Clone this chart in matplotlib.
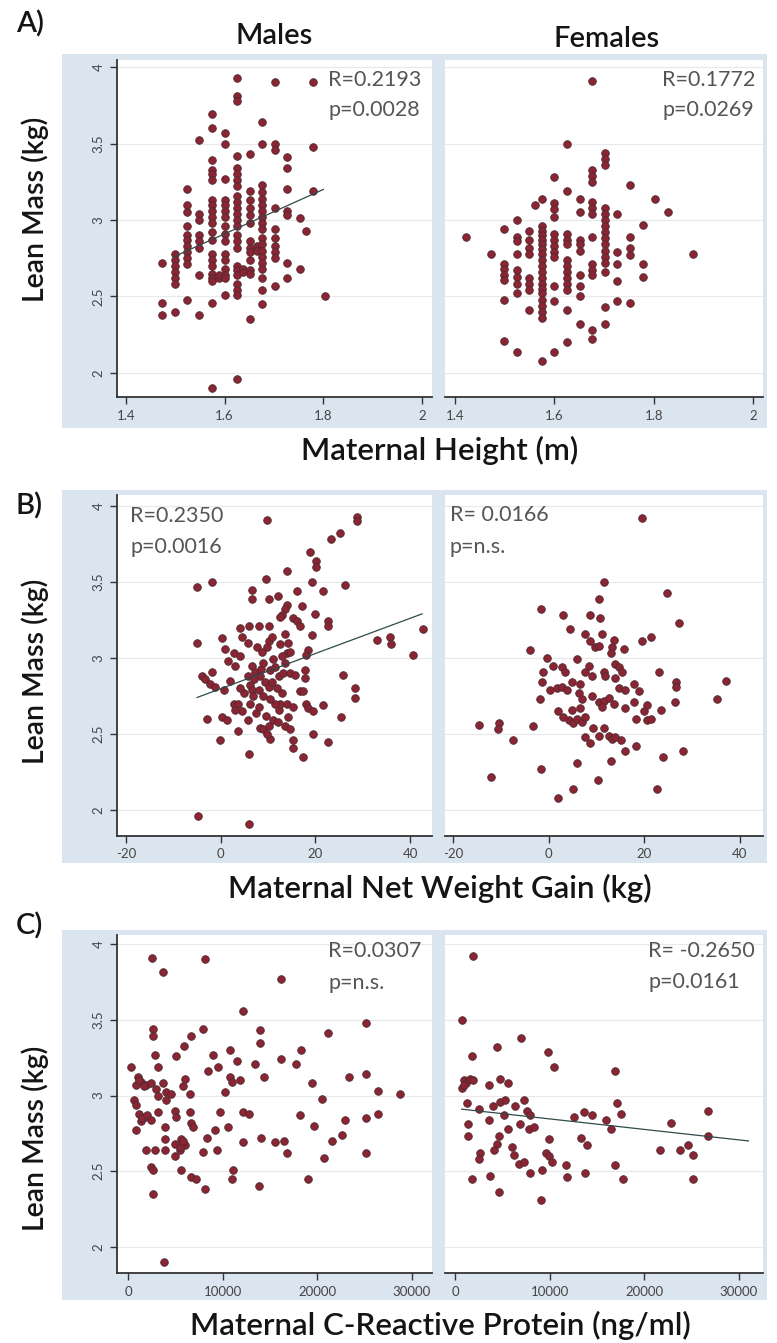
import matplotlib
matplotlib.use("Agg")
import matplotlib.pyplot as plt
from matplotlib.patches import Rectangle

plt.rcParams['font.family'] = ['Lato', 'DejaVu Sans']

# --- Data ---
# A) maternal height (m) -> lean mass (kg); heights come in inch steps, so keyed by column
a_male = {
    1.473: [2.72, 2.46, 2.38],
    1.499: [2.78, 2.74, 2.70, 2.66, 2.62, 2.58, 2.40],
    1.524: [3.20, 3.10, 3.05, 2.96, 2.90, 2.87, 2.83, 2.79, 2.75, 2.71, 2.48],
    1.549: [3.52, 3.04, 3.00, 2.90, 2.86, 2.82, 2.64, 2.38],
    1.575: [3.69, 3.60, 3.39, 3.33, 3.30, 3.26, 3.13, 3.10, 3.06, 3.02, 2.98, 2.92,
            2.87, 2.78, 2.74, 2.70, 2.65, 2.62, 2.60, 2.46, 1.90],
    1.588: [2.62, 2.64],
    1.600: [3.57, 3.50, 3.27, 3.13, 3.10, 3.06, 3.02, 2.96, 2.91, 2.86, 2.78, 2.74,
            2.68, 2.64, 2.62, 2.51],
    1.626: [3.93, 3.81, 3.78, 3.42, 3.34, 3.30, 3.26, 3.22, 3.16, 3.12, 3.08, 3.04,
            3.00, 2.96, 2.90, 2.86, 2.82, 2.70, 2.67, 2.64, 2.58, 2.54, 2.51, 1.96],
    1.638: [2.68, 2.66],
    1.651: [3.43, 3.19, 3.13, 3.08, 3.03, 2.98, 2.86, 2.82, 2.79, 2.74, 2.67, 2.65, 2.35],
    1.665: [2.83, 2.80],
    1.676: [3.64, 3.50, 3.23, 3.18, 3.14, 3.10, 3.06, 3.02, 2.98, 2.94, 2.88, 2.84,
            2.80, 2.76, 2.72, 2.68, 2.62, 2.54, 2.45],
    1.702: [3.90, 3.50, 3.46, 3.08, 2.94, 2.88, 2.83, 2.79, 2.75, 2.57],
    1.727: [3.41, 3.34, 3.20, 3.06, 3.03, 2.72, 2.62],
    1.753: [3.01, 2.68],
    1.765: [2.93],
    1.778: [3.90, 3.48, 3.19],
    1.803: [2.50],
}
a_female = {
    1.422: [2.89],
    1.473: [2.78],
    1.499: [2.94, 2.71, 2.68, 2.64, 2.61, 2.48, 2.21],
    1.524: [3.00, 2.89, 2.86, 2.78, 2.67, 2.63, 2.58, 2.52, 2.14],
    1.549: [2.93, 2.87, 2.82, 2.78, 2.62, 2.58, 2.54, 2.41],
    1.562: [3.10],
    1.575: [3.14, 2.96, 2.93, 2.90, 2.87, 2.84, 2.81, 2.78, 2.74, 2.70, 2.66, 2.62,
            2.58, 2.55, 2.52, 2.48, 2.44, 2.40, 2.36, 2.08],
    1.600: [3.28, 3.11, 3.07, 3.02, 2.91, 2.87, 2.83, 2.79, 2.76, 2.57, 2.47, 2.14],
    1.626: [3.50, 3.19, 2.91, 2.87, 2.84, 2.74, 2.70, 2.66, 2.62, 2.58, 2.54, 2.41, 2.20],
    1.651: [3.14, 3.05, 2.87, 2.84, 2.80, 2.64, 2.57, 2.50, 2.32],
    1.676: [3.91, 3.33, 3.29, 3.25, 3.12, 3.08, 3.04, 2.89, 2.71, 2.67, 2.64, 2.28, 2.22],
    1.702: [3.44, 3.40, 3.36, 3.08, 3.04, 3.00, 2.96, 2.92, 2.88, 2.84, 2.80, 2.76,
            2.72, 2.66, 2.43, 2.32],
    1.727: [3.04, 2.79, 2.71, 2.60, 2.47],
    1.753: [3.23, 2.89, 2.82, 2.77, 2.46],
    1.778: [2.97, 2.71, 2.63],
    1.803: [3.14],
    1.829: [3.05],
    1.880: [2.78],
}
a_male_fit_x = [1.497, 1.80]
a_male_fit_y = [2.76, 3.20]

# B) maternal net weight gain (kg)
b_male_gain = [9.7, 28.7, 28.7, 25.2, 23.3, 18.8, 20.2, 20.2, 13.9, -5.0, -1.9, 9.6, 6.5, 6.5,
               10.1, 12.0, 16.0, 19.3, 21.6, 26.3, 13.9, 13.6, 12.9, 12.5, 17.1, 19.9, 15.3,
               16.0, 16.7, 22.7, 22.7, -5.0, 4.1, 6.0, 8.0, 10.1, 0.2, 0.9, 2.7, 4.1, 4.4,
               5.8, 7.6, 8.7, 10.1, 9.7, 10.8, 13.6, 14.3, 13.9, 13.6, 12.5, 12.9, 19.2,
               18.5, 18.1, 14.6, 6.5, 7.3, 8.3, 9.4, 10.4, 11.5, 12.2, 13.2, 14.6, 15.7,
               5.8, 6.2, 6.5, 6.9, 6.2, 8.0, 9.0, 10.1, 10.8, 17.8, 17.8, 25.9, 28.3, 28.3,
               32.9, 35.7, 36.0, 40.6, 42.7, -4.0, -3.3, -2.2, -1.2, 0.6, -1.9, 2.7, 3.7,
               4.4, 3.0, -2.9, 0.2, 1.3, -0.1, 3.7, 5.8, 8.3, 9.0, 10.1, 10.4, 9.7, 11.1,
               12.2, 12.5, 12.9, 13.9, 14.3, 13.6, 14.6, 15.3, 16.7, 17.4, 18.1, 18.5, 19.5,
               21.6, 19.5, 22.7, 25.4, 6.0, 15.3, 15.3, 17.3, -4.7, 6.0,
               7.0, 8.5, 9.0, 11.0, 7.5, 8.0, 11.5, 9.5, 5.0, 4.0, 2.0, 3.0, 1.5, 11.8, 10.5, 12.0]
b_male_mass = [3.91, 3.93, 3.90, 3.82, 3.78, 3.70, 3.64, 3.60, 3.57, 3.47, 3.50, 3.52, 3.45, 3.39,
               3.39, 3.41, 3.44, 3.50, 3.44, 3.48, 3.35, 3.32, 3.28, 3.27, 3.34, 3.29, 3.26,
               3.24, 3.21, 3.24, 3.21, 3.10, 3.20, 3.21, 3.21, 3.21, 3.13, 3.06, 3.03, 3.01, 3.14,
               3.10, 3.07, 3.04, 3.11, 3.07, 3.14, 3.16, 3.10, 3.03, 2.97, 3.09, 3.01, 3.15,
               3.05, 3.02, 3.04, 2.95, 2.91, 2.88, 2.84, 2.92, 2.94, 2.88, 2.90, 2.90, 2.89,
               2.88, 2.82, 2.79, 2.75, 2.70, 2.79, 2.75, 2.81, 2.84, 2.92, 2.87, 2.89, 2.80, 2.74,
               3.12, 3.14, 3.09, 3.02, 3.19, 2.88, 2.86, 2.83, 2.81, 2.79, 2.91, 2.70, 2.70,
               2.65, 2.66, 2.60, 2.61, 2.59, 2.46, 2.52, 2.59, 2.54, 2.53, 2.55, 2.47, 2.50, 2.59,
               2.66, 2.70, 2.77, 2.70, 2.61, 2.55, 2.53, 2.68, 2.78, 2.78, 2.70, 2.67, 2.65,
               2.69, 2.50, 2.45, 2.61, 2.37, 2.46, 2.41, 2.35, 1.96, 1.91,
               2.86, 2.93, 2.97, 2.99, 2.64, 2.68, 2.70, 2.62, 2.77, 2.80, 2.85, 2.95, 2.98, 2.80, 2.73, 2.58]
b_male_fit_x = [-5.0, 42.5]
b_male_fit_y = [2.74, 3.29]

b_female_gain = [19.5, 11.5, 24.7, 10.5, 27.4, -1.5, 3.1, 8.7, 10.8, 4.5, 7.7, 11.2, 13.7, 13.3,
                 13.0, 8.7, 9.8, 10.5, 15.8, 19.6, 21.4, -3.9, -0.4, 5.9, 1.0, 2.7, 3.4, 8.4,
                 7.7, 9.1, -1.1, -1.4, 0.3, 1.7, 2.7, 3.8, 4.9, 6.6, 11.5, 11.9, 14.0, 14.7,
                 15.4, 14.0, 14.7, 16.1, 17.9, 18.9, 23.2, 26.7, 26.7, 26.5, 37.1, 35.3, -1.8,
                 6.3, 7.0, 9.1, 10.5, 11.5, 11.2, 12.6, 13.7, 16.1, 17.9, 18.2, 20.0, 20.7,
                 20.7, 21.4, 23.5, 2.0, 3.1, 4.2, 5.2, 5.9, 7.0, 7.7, 4.9, 6.6, 9.4, 10.5,
                 11.5, 12.6, 13.3, 14.0, 15.1, 7.7, 8.7, 16.1, 18.2, -3.2, -14.5, -10.3, -10.6,
                 -7.5, 23.9, 28.2, 13.0, 5.9, -1.5, -12.0, 10.4, 22.8, 5.2, 2.0]
b_female_mass = [3.92, 3.50, 3.43, 3.39, 3.23, 3.32, 3.28, 3.28, 3.26, 3.19, 3.16, 3.16, 3.12, 3.07,
                 3.03, 3.11, 3.07, 3.08, 3.06, 3.11, 3.14, 3.05, 3.00, 2.99, 2.95, 2.94, 2.91, 2.95,
                 2.91, 2.88, 2.91, 2.84, 2.79, 2.80, 2.81, 2.79, 2.84, 2.83, 2.91, 2.88, 2.96, 2.94,
                 2.91, 2.87, 2.80, 2.79, 2.83, 2.78, 2.91, 2.84, 2.81, 2.71, 2.85, 2.73, 2.73,
                 2.77, 2.73, 2.75, 2.71, 2.72, 2.68, 2.74, 2.70, 2.67, 2.71, 2.60, 2.65, 2.69,
                 2.59, 2.60, 2.66, 2.65, 2.61, 2.59, 2.57, 2.60, 2.58, 2.61, 2.66, 2.67, 2.54, 2.49,
                 2.54, 2.49, 2.47, 2.48, 2.46, 2.48, 2.44, 2.39, 2.42, 2.55, 2.56, 2.57, 2.53,
                 2.46, 2.35, 2.39, 2.32, 2.31, 2.27, 2.22, 2.20, 2.14, 2.14, 2.08]

# C) maternal C-reactive protein (ng/ml)
c_male_crp = [2520, 8120, 3690, 16210, 12200, 25150, 2625, 2625, 7945, 13975, 13975, 21170, 6635,
              5920, 2800, 5110, 9010, 10780, 11490, 18230, 13440, 16210, 17700, 320, 3160, 8480,
              9540, 14330, 23375, 25150, 1030, 1380, 850, 1915, 2450, 3690, 2980, 4040, 4575,
              5995, 5820, 6530, 10780, 10960, 11850, 10250, 19470, 26390, 28700, 20460, 600,
              850, 3160, 4040, 1205, 1740, 2450, 1380, 850, 3160, 4930, 5110, 6530, 3870, 6700,
              6880, 9720, 12200, 12730, 18160, 19650, 22950, 25150, 26390, 9190, 10600, 3870,
              4930, 5640, 5990, 5460, 1915, 2800, 3870, 4930, 7945, 8300, 9360, 12200, 14080,
              15500, 16460, 16810, 21600, 22600, 20720, 25150, 2450, 2625, 5570, 6700, 7230,
              11140, 10960, 19050, 8120, 13870, 2625, 3795, 1500, 2000, 1200, 1700, 5500, 5800]
c_male_mass = [3.91, 3.90, 3.815, 3.77, 3.56, 3.48, 3.44, 3.39, 3.44, 3.43, 3.35, 3.41, 3.39,
               3.33, 3.27, 3.26, 3.27, 3.30, 3.23, 3.30, 3.21, 3.24, 3.21, 3.19, 3.19, 3.16,
               3.19, 3.12, 3.12, 3.14, 3.12, 3.09, 3.07, 3.07, 3.08, 3.08, 3.04, 3.02, 3.01,
               3.11, 3.06, 3.01, 3.12, 3.09, 3.10, 3.02, 3.08, 3.03, 3.01, 2.98, 2.97,
               2.94, 3.00, 2.97, 2.88, 2.86, 2.84, 2.83, 2.77, 2.89, 2.90, 2.86, 2.89, 2.79, 2.82,
               2.79, 2.89, 2.89, 2.88, 2.87, 2.80, 2.84, 2.85, 2.88, 2.77, 2.79, 2.71,
               2.68, 2.71, 2.67, 2.64, 2.64, 2.64, 2.64, 2.60, 2.63, 2.72, 2.64, 2.69, 2.72,
               2.69, 2.70, 2.62, 2.70, 2.74, 2.59, 2.62, 2.53, 2.51, 2.51, 2.46, 2.45,
               2.51, 2.45, 2.45, 2.38, 2.40, 2.35, 1.90, 2.85, 2.87, 3.10, 3.06, 2.66, 2.70]

c_female_crp = [1950, 710, 6975, 4430, 9810, 1770, 10440, 16920, 900, 1200, 700, 950, 1600, 1950,
                3540, 4780, 5560, 1240, 2480, 4000, 4780, 5310, 6370, 7330, 7610, 7970, 5130,
                3540, 1420, 1420, 6900, 7790, 8320, 5560, 4600, 4430, 4070, 6020, 6200, 2660,
                2480, 9980, 12570, 13630, 14520, 15930, 16460, 17070, 17520, 13280, 13980, 9560,
                9910, 10270, 6730, 7260, 7970, 9210, 11680, 11860, 13740, 16920, 17700, 1840,
                3650, 4600, 9100, 22830, 21700, 23820, 24600, 25140, 25140, 26730, 26730]
c_female_mass = [3.92, 3.50, 3.38, 3.32, 3.29, 3.26, 3.19, 3.16, 3.10, 3.08, 3.05, 3.07, 3.11, 3.10,
                 3.07, 3.11, 3.08, 2.95, 2.91, 2.93, 2.96, 2.97, 2.93, 2.97, 2.90, 2.87, 2.87,
                 2.84, 2.81, 2.73, 2.81, 2.78, 2.79, 2.78, 2.73, 2.68, 2.64, 2.66, 2.61, 2.62,
                 2.58, 2.71, 2.86, 2.89, 2.87, 2.84, 2.78, 2.95, 2.88, 2.72, 2.67, 2.62,
                 2.60, 2.56, 2.55, 2.56, 2.49, 2.51, 2.54, 2.46, 2.49, 2.54, 2.45, 2.45,
                 2.47, 2.365, 2.31, 2.82, 2.64, 2.64, 2.67, 2.61, 2.45, 2.90, 2.73]
c_female_fit_x = [700, 31000]
c_female_fit_y = [2.91, 2.70]

y_ticks = [2, 2.5, 3, 3.5, 4]
y_ticklabels = ['2', '2.5', '3', '3.5', '4']

# --- Style ---
W, H = 777, 1343
BG = '#dbe5f0'
PT_FACE = '#8b2433'
PT_EDGE = '#4f2a30'
FIT = '#2f4a4a'
TXT = '#555555'
GRID = '#e9e9e9'
DARK = '#141414'
HEAVY = 'semibold'


def flatten(cols):
    xs, ys = [], []
    for h, vals in cols.items():
        xs += [h] * len(vals)
        ys += vals
    return xs, ys


fig = plt.figure(figsize=(W / 100, H / 100), dpi=100)
fig.patch.set_facecolor('white')


def fx(x):
    return x / W


def fy(y):
    return 1 - y / H


def add_ax(x0, y0, x1, y1):
    return fig.add_axes([fx(x0), fy(y1), (x1 - x0) / W, (y1 - y0) / H])


def style_ax(ax, xlim, ylim, xticks, xticklabels, left):
    ax.set_facecolor('white')
    ax.set_xlim(*xlim)
    ax.set_ylim(*ylim)
    for s in ('top', 'right'):
        ax.spines[s].set_visible(False)
    ax.spines['bottom'].set_color('#333333')
    ax.spines['bottom'].set_linewidth(1.3)
    ax.set_xticks(xticks)
    ax.set_xticklabels(xticklabels)
    ax.set_yticks(y_ticks)
    ax.tick_params(axis='x', direction='out', length=5, width=1, color='#333333',
                   labelsize=9.5, labelcolor='#444444', pad=4)
    if left:
        ax.spines['left'].set_color('#333333')
        ax.spines['left'].set_linewidth(1.3)
        ax.set_yticklabels(y_ticklabels, rotation=90, va='center')
        ax.tick_params(axis='y', direction='out', length=5, width=1, color='#333333',
                       labelsize=9.5, labelcolor='#444444', pad=4)
    else:
        ax.spines['left'].set_visible(False)
        ax.tick_params(axis='y', left=False, labelleft=False)
    ax.grid(axis='y', color=GRID, lw=0.9)
    ax.set_axisbelow(True)


def scatter(ax, x, y):
    ax.scatter(x, y, s=30, c=PT_FACE, edgecolors=PT_EDGE, linewidths=0.6, zorder=3)


rows = [
    dict(frame=(62, 54, 767, 428), top=60, bottom=397, ylim=(1.843, 4.046),
         xl=(1.382, 2.02), xr=(1.380, 2.02), xticks=[1.4, 1.6, 1.8, 2],
         xtl=['1.4', '1.6', '1.8', '2'], letter='A)', letter_y=24,
         xlabel='Maternal Height (m)', xlabel_y=450, ylabel_y=209),
    dict(frame=(62, 490, 767, 863), top=495, bottom=836, ylim=(1.829, 4.072),
         xl=(-21.9, 44.6), xr=(-21.7, 44.9), xticks=[-20, 0, 20, 40],
         xtl=['-20', '0', '20', '40'], letter='B)', letter_y=506,
         xlabel='Maternal Net Weight Gain (kg)', xlabel_y=888, ylabel_y=671),
    dict(frame=(62, 930, 767, 1300), top=935, bottom=1273, ylim=(1.828, 4.06),
         xl=(-1166, 32120), xr=(-1060, 32540), xticks=[0, 10000, 20000, 30000],
         xtl=['0', '10000', '20000', '30000'], letter='C)', letter_y=926,
         xlabel='Maternal C-Reactive Protein (ng/ml)', xlabel_y=1325, ylabel_y=1138),
]

axes = []
for r in rows:
    x0, y0, x1, y1 = r['frame']
    fig.patches.append(Rectangle((fx(x0), fy(y1)), (x1 - x0) / W, (y1 - y0) / H,
                                 transform=fig.transFigure, facecolor=BG,
                                 edgecolor='none', zorder=-5))
    axl = add_ax(117, r['top'], 432, r['bottom'])
    axr = add_ax(445, r['top'], 763, r['bottom'])
    style_ax(axl, r['xl'], r['ylim'], r['xticks'], r['xtl'], True)
    style_ax(axr, r['xr'], r['ylim'], r['xticks'], r['xtl'], False)
    axes.append((axl, axr))
    fig.text(fx(16), fy(r['letter_y']), r['letter'], fontsize=21, ha='left', va='center',
             color=DARK, fontweight=HEAVY)
    fig.text(fx(440), fy(r['xlabel_y']), r['xlabel'], fontsize=22.5, ha='center',
             va='center', color=DARK, fontweight=HEAVY)
    fig.text(fx(35), fy(r['ylabel_y']), 'Lean Mass (kg)', fontsize=20.5, rotation=90,
             ha='center', va='center', color=DARK, fontweight=HEAVY)

fig.text(fx(274), fy(36), 'Males', fontsize=21, ha='center', va='center', color=DARK,
         fontweight=HEAVY)
fig.text(fx(607), fy(39), 'Females', fontsize=21, ha='center', va='center', color=DARK,
         fontweight=HEAVY)

# row A
(axl, axr) = axes[0]
scatter(axl, *flatten(a_male))
axl.plot(a_male_fit_x, a_male_fit_y, color=FIT, lw=0.9, zorder=4)
scatter(axr, *flatten(a_female))

# row B
(axl, axr) = axes[1]
scatter(axl, b_male_gain, b_male_mass)
axl.plot(b_male_fit_x, b_male_fit_y, color=FIT, lw=0.9, zorder=4)
scatter(axr, b_female_gain, b_female_mass)

# row C
(axl, axr) = axes[2]
scatter(axl, c_male_crp, c_male_mass)
scatter(axr, c_female_crp, c_female_mass)
axr.plot(c_female_fit_x, c_female_fit_y, color=FIT, lw=0.9, zorder=4)

# R / p annotations
notes = [
    (328, 80, 'R=0.2193'), (328, 110, 'p=0.0028'),
    (662, 80, 'R=0.1772'), (662, 110, 'p=0.0269'),
    (130, 516, 'R=0.2350'), (130, 547, 'p=0.0016'),
    (450, 515, 'R= 0.0166'), (450, 547, 'p=n.s.'),
    (328, 951, 'R=0.0307'), (328, 983, 'p=n.s.'),
    (648, 951, 'R= -0.2650'), (648, 982, 'p=0.0161'),
]
for x, y, s in notes:
    fig.text(fx(x), fy(y), s, fontsize=15.5, ha='left', va='center', color=TXT)

fig.savefig('out.png', dpi=100)
